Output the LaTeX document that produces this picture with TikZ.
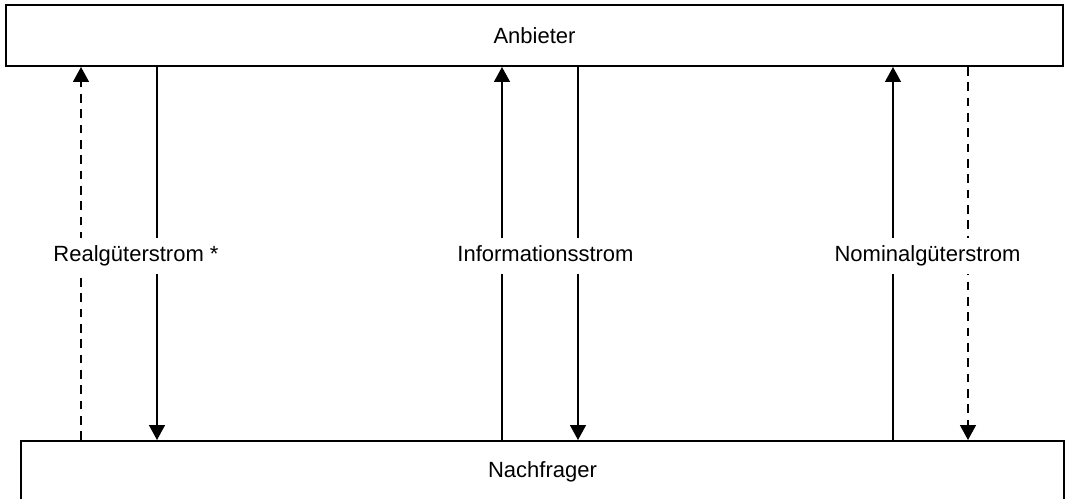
\documentclass[tikz,border=0pt]{standalone}
\usepackage{fontspec}
\setmainfont{Liberation Sans}
\usetikzlibrary{arrows.meta}
\tikzset{
  box/.style={draw=black, line width=1.5pt, fill=white, minimum width=782.25pt, minimum height=45.75pt, inner sep=0pt, font=\fontsize{16.5}{20}\selectfont},
  flow/.style={draw=black, line width=1.1pt, -{Triangle[width=12pt,length=11.25pt]}},
  dflow/.style={flow, dash pattern=on 6.5pt off 5pt},
  lbl/.style={fill=white, inner xsep=1pt, inner ysep=0pt, text height=11.8pt, text depth=3.5pt, minimum height=27pt, anchor=base, font=\fontsize{16.5}{20}\selectfont}
}
\begin{document}
\begin{tikzpicture}[x=0.75pt, y=-0.75pt]
\clip (0,0) rectangle (1065,499);
\fill[white] (0,0) rectangle (1065,499);
\node[box, minimum width=792.75pt] (anb) at (534.5,35.5) {Anbieter};
\node[box] (nach) at (542.5,471.5) {Nachfrager};
% arrows
\draw[dflow] (81,0 |- nach.north) -- (81,0 |- anb.south);
\draw[flow] (157,0 |- anb.south) -- (157,0 |- nach.north);
\draw[flow] (502,0 |- nach.north) -- (502,0 |- anb.south);
\draw[flow] (578,0 |- anb.south) -- (578,0 |- nach.north);
\draw[flow] (893,0 |- nach.north) -- (893,0 |- anb.south);
\draw[dflow] (968,0 |- anb.south) -- (968,0 |- nach.north);
% labels
\node[lbl] (l1) at (136,262) {Realgüterstrom *};
\node[lbl] (l2) at (545.5,262) {Informationsstrom};
\node[lbl] (l3) at (927.5,262) {Nominalgüterstrom};
\end{tikzpicture}
\end{document}
